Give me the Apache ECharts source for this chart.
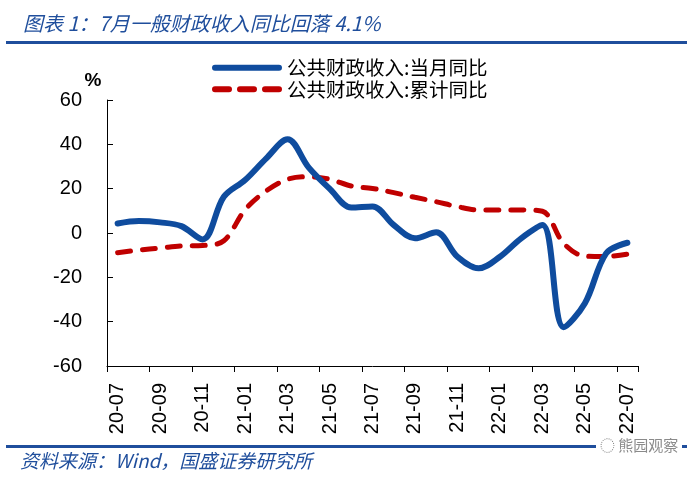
<!DOCTYPE html>
<html>
<head>
<meta charset="utf-8">
<script src="https://cdn.jsdelivr.net/npm/echarts@6/dist/echarts.min.js"></script>
<style>
html,body{margin:0;padding:0;background:#fff;}
#chart{width:700px;height:480px;}
</style>
</head>
<body>
<div id="chart"></div>
<script>
const categories = ['20-07','20-08','20-09','20-10','20-11','20-12','21-01','21-02','21-03','21-04','21-05','21-06','21-07','21-08','21-09','21-10','21-11','21-12','22-01','22-02','22-03','22-04','22-05','22-06','22-07'];
const monthlyYoY = [4.3, 5.4, 4.8, 3.1, -2.9, 16.3, 23.9, 33.7, 42.3, 29.5, 19.8, 11.5, 12.0, 3.6, -2.4, 0.3, -10.7, -15.9, -10.7, -2.4, 3.6, -42.5, -31.7, -9.2, -4.4];
const cumulativeYoY = [-8.9, -7.7, -6.8, -5.8, -5.6, -3.5, 10.5, 19.0, 24.2, 25.4, 24.2, 21.2, 20.1, 18.2, 16.1, 14.1, 11.9, 10.4, 10.4, 10.4, 9.8, -4.7, -10.4, -10.6, -9.5];
const seriesNames = ['公共财政收入:当月同比', '公共财政收入:累计同比'];
const yTicks = {min: -60, max: 60, interval: 20};

const chart = echarts.init(document.getElementById('chart'), null, {renderer: 'canvas'});
const blue = '#0F4C9E';
const red = '#C00000';
const titleBlue = '#1F4E9C';
const font = '"Liberation Sans", Arial, "Noto Sans CJK SC", sans-serif';
const cjk = '"Noto Sans CJK SC", "Liberation Sans", sans-serif';

chart.setOption({
  animation: false,
  backgroundColor: '#fff',
  title: {
    text: '图表 1：7月一般财政收入同比回落 4.1%',
    left: 18, top: 8,
    textStyle: {color: titleBlue, fontSize: 20, fontStyle: 'italic', fontWeight: 'normal', fontFamily: cjk}
  },
  legend: {
    orient: 'vertical',
    left: 207, top: 53,
    itemWidth: 70, itemHeight: 6, itemGap: 2,
    textStyle: {fontSize: 19.5, color: '#000', fontFamily: cjk},
    data: [
      {name: seriesNames[0], icon: 'path://M3,0 L67,0 A3,3 0 0 1 67,6 L3,6 A3,3 0 0 1 3,0 Z'},
      {name: seriesNames[1], icon: 'path://M3,0 L17,0 A3,3 0 0 1 17,6 L3,6 A3,3 0 0 1 3,0 Z M28,0 L42,0 A3,3 0 0 1 42,6 L28,6 A3,3 0 0 1 28,0 Z M53,0 L67,0 A3,3 0 0 1 67,6 L53,6 A3,3 0 0 1 53,0 Z'}
    ]
  },
  grid: {left: 107, right: 62, top: 100, bottom: 114, containLabel: false},
  xAxis: [
    {
      type: 'category', data: categories, boundaryGap: true, position: 'bottom',
      axisLine: {show: false}, axisTick: {show: false},
      axisLabel: {interval: 1, rotate: 90, fontSize: 20, color: '#000', fontFamily: font, margin: 17}
    },
    {
      type: 'category', data: categories, boundaryGap: true, position: 'bottom',
      axisLine: {show: true, onZero: true, lineStyle: {color: '#000', width: 1}},
      axisTick: {show: true, interval: 1, length: 6, lineStyle: {color: '#000'}},
      axisLabel: {show: false}
    }
  ],
  yAxis: {
    type: 'value', min: yTicks.min, max: yTicks.max, interval: yTicks.interval,
    name: '%', nameLocation: 'end', nameGap: 10,
    nameTextStyle: {fontSize: 19, fontWeight: 'bold', color: '#000', fontFamily: font, padding: [0, 28, 0, 0]},
    axisLine: {show: true, lineStyle: {color: '#000', width: 1}},
    axisTick: {show: true, inside: true, length: 6, lineStyle: {color: '#000'}},
    axisLabel: {fontSize: 20, color: '#000', fontFamily: font, margin: 25},
    splitLine: {show: false}
  },
  series: [
    {
      name: seriesNames[0], type: 'line', data: monthlyYoY, xAxisIndex: 0,
      smooth: 0.35, symbol: 'none',
      lineStyle: {color: blue, width: 6, cap: 'round', join: 'round'},
      itemStyle: {color: blue}, z: 3
    },
    {
      name: seriesNames[1], type: 'line', data: cumulativeYoY, xAxisIndex: 0,
      smooth: 0.35, symbol: 'none',
      lineStyle: {color: red, width: 5, type: [13, 12], cap: 'round'},
      itemStyle: {color: red}, z: 2
    }
  ],
  graphic: [
    {type: 'rect', shape: {x: 6, y: 41, width: 681, height: 3}, style: {fill: titleBlue}, silent: true},
    {type: 'rect', shape: {x: 6, y: 445, width: 681, height: 3}, style: {fill: titleBlue}, silent: true},
    {type: 'rect', shape: {x: 596, y: 438, width: 86, height: 20}, style: {fill: '#fff'}, silent: true},
    {type: 'text', left: 600, top: 438, style: {text: '◌ 熊园观察', fill: '#8a8a8a', font: '15px "Noto Sans CJK SC"'}, silent: true},
    {type: 'text', left: 20, top: 451, style: {text: '资料来源：Wind，国盛证券研究所', fill: titleBlue, font: 'italic 19px "Noto Sans CJK SC"'}, silent: true}
  ]
});
</script>
</body>
</html>
